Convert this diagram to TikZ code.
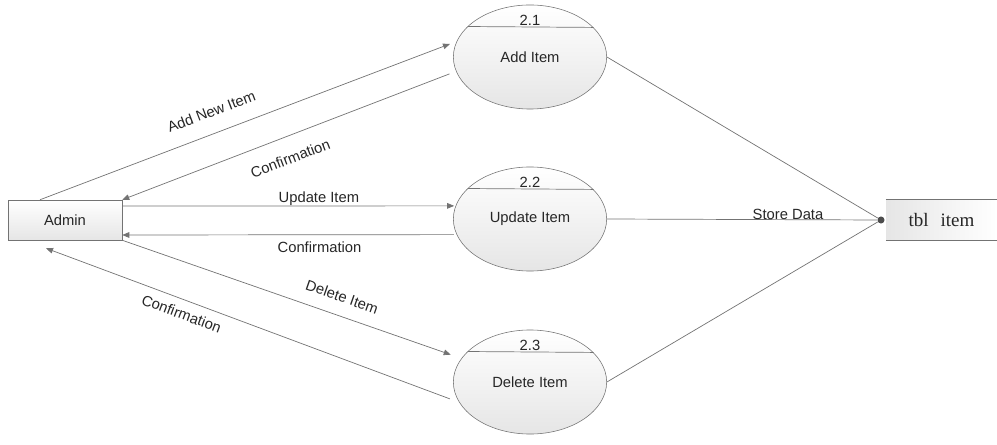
\documentclass[tikz,border=0pt]{standalone}
\usepackage{fontspec}
\setmainfont{Liberation Sans}
\newfontfamily\tblfont{Liberation Serif}
\usetikzlibrary{shapes.geometric, arrows.meta, calc}

\begin{document}
\begin{tikzpicture}[x=0.025cm, y=-0.025cm,
    font=\fontsize{10.5}{12}\selectfont, text=black!85,
    flow/.style={draw=black!55, line width=0.5pt},
    arr/.style={flow, -{Triangle[length=5pt, width=4pt]}},
    rarr/.style={flow, {Triangle[length=5pt, width=4pt]}-},
    proc/.style={ellipse, draw=black!55, top color=white, bottom color=black!10,
        minimum width=109pt, minimum height=74pt, inner sep=0pt},
    ent/.style={rectangle, draw=black!55, top color=white, bottom color=black!10,
        minimum width=81pt, minimum height=28.4pt}]
    \useasboundingbox (0,0) rectangle (997,445);
    \node[ent] (adm) at (65,220) {Admin};
    \foreach \n/\y/\t in {1/57/Add Item, 2/219/Update Item, 3/382/Delete Item} {
        \node[proc] (p2\n) at (530,\y) {\t};
        \draw[flow] (p2\n.25.5) -- (p2\n.154.5);
        \node at ($(p2\n.north)+(0,16)$) {2.\n};
    }
    \node[left color=black!10, right color=white, minimum width=78.7pt, minimum height=28.4pt,
        font=\tblfont\fontsize{13.5}{15}\selectfont] (tbl) at (941.5,220) {tbl\hspace{8.5pt}item};
    \draw[flow] (tbl.north west) -- (tbl.north east) (tbl.south west) -- (tbl.south east);
    \node[circle, fill=black!70, inner sep=0pt, minimum size=5pt] (dot) at (881,220) {};
    \draw[flow] (p21.east) -- (dot);
    \draw[flow] (p22.east) -- node[above=-3.5pt, pos=0.67] {Store Data} (dot);
    \draw[flow] (p23.east) -- (dot);
    \draw[arr, shorten >=5pt] ($(adm.north)+(-25,0)$) -- node[sloped, above=8pt, pos=0.43] {Add New Item} (p21.168.5);
    \draw[rarr, shorten >=5pt] (adm.north east) -- node[sloped, below=8pt, pos=0.48] {Confirmation} (p21.191.5);
    \draw[arr, shorten >=1pt] ($(adm.east)+(0,-14)$) -- node[above=-3.5pt, pos=0.59] {Update Item} (p22.170);
    \draw[rarr, shorten >=2pt] ($(adm.east)+(0,15)$) -- node[below=1.5pt, pos=0.59] {Confirmation} (p22.192.3);
    \draw[arr, shorten >=8pt] (adm.south east) -- node[sloped, above=6pt, pos=0.63] {Delete Item} (p23.161.6);
    \draw[rarr, shorten >=7pt] ($(adm.south)+(-19,8)$) -- node[sloped, below=2.5pt, pos=0.34] {Confirmation} (p23.196.6);
\end{tikzpicture}
\end{document}
